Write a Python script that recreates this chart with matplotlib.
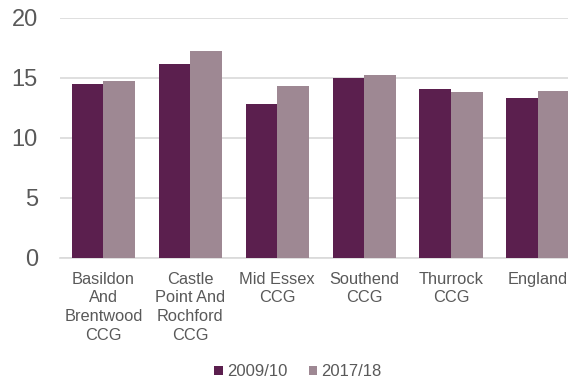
import matplotlib
matplotlib.use("Agg")
import matplotlib.pyplot as plt
import numpy as np
from matplotlib.patches import Patch

categories = ["Basildon\nAnd\nBrentwood\nCCG", "Castle\nPoint And\nRochford\nCCG",
              "Mid Essex\nCCG", "Southend\nCCG", "Thurrock\nCCG", "England"]
series_names = ["2009/10", "2017/18"]
values_2009 = [14.45, 16.15, 12.85, 15.0, 14.05, 13.3]
values_2017 = [14.7, 17.25, 14.3, 15.2, 13.8, 13.9]
y_ticks = [0, 5, 10, 15, 20]

dark = "#5B1F4E"
light = "#9E8893"
text_color = "#595959"
grid_color = "#D9D9D9"

plt.rcParams["font.family"] = ["Liberation Sans", "DejaVu Sans"]

fig = plt.figure(figsize=(5.68, 3.78), dpi=100)
ax = fig.add_axes([60 / 568, 120.3 / 378, 521.4 / 568, 240 / 378])

x = np.arange(len(categories))
w = 0.364
ax.bar(x - w / 2, values_2009, width=w, color=dark, zorder=3)
ax.bar(x + w / 2, values_2017, width=w, color=light, zorder=3)

ax.set_xlim(-0.5, len(categories) - 0.5)
ax.set_ylim(0, 20)
ax.set_yticks(y_ticks)
ax.set_xticks(x)
ax.set_xticklabels(categories, fontsize=11.8, color=text_color, linespacing=1.32)
ax.tick_params(axis="y", length=0, pad=16, labelsize=17, labelcolor=text_color)
ax.tick_params(axis="x", length=0, pad=10)
ax.grid(axis="y", color=grid_color, linewidth=1.2, zorder=0)
for s in ["top", "right", "left"]:
    ax.spines[s].set_visible(False)
ax.spines["bottom"].set_color(grid_color)
ax.spines["bottom"].set_linewidth(1.2)

handles = [Patch(facecolor=dark, label=series_names[0]),
           Patch(facecolor=light, label=series_names[1])]
fig.legend(handles=handles, loc="center", bbox_to_anchor=(298 / 568, 1 - 372 / 378),
           ncol=2, frameon=False, fontsize=12, handlelength=0.5, handleheight=0.5,
           handletextpad=0.25, columnspacing=1.3, labelcolor=text_color)

fig.savefig("out.png", dpi=100)
